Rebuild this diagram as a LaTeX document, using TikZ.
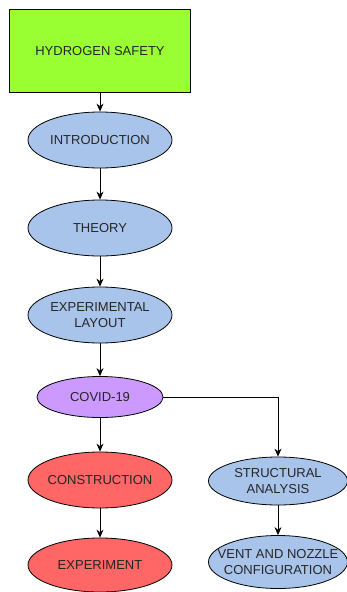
\documentclass[tikz,border=0pt]{standalone}
\usepackage{fontspec}
\setmainfont{Liberation Sans}
\usetikzlibrary{shapes.geometric,arrows.meta}
\definecolor{hgreen}{HTML}{99FF33}
\definecolor{hblue}{HTML}{A9C4EB}
\definecolor{hpurple}{HTML}{CC99FF}
\definecolor{hred}{HTML}{FF6666}
\tikzset{every node/.style={font=\fontsize{13}{15.5}\selectfont,align=center,text=black!85}}

\begin{document}
\begin{tikzpicture}[x=1pt,y=-1pt,thick,>={Stealth[length=8pt,width=7pt]},
    topic/.style={ellipse,draw,fill=hblue,minimum width=144pt,minimum height=56pt,inner xsep=-25pt,inner ysep=-8pt}]
    \useasboundingbox (0,0) rectangle (346,592);
    \node (HS) at (100,51) [rectangle,draw,fill=hgreen,minimum width=181pt,minimum height=83pt]{HYDROGEN SAFETY};
    \node (IN) at (100,140) [topic]{INTRODUCTION};
    \node (TH) at (100,228) [topic]{THEORY};
    \node (EL) at (100,315) [topic]{EXPERIMENTAL\\LAYOUT};
    \node (CV) at (100,397) [topic,fill=hpurple,minimum width=126pt,minimum height=41pt]{COVID-19};
    \node (CO) at (100,480) [topic,fill=hred]{CONSTRUCTION};
    \node (EX) at (100,565) [topic,fill=hred,minimum height=54pt]{EXPERIMENT};
    \node (SA) at (278,481) [topic,minimum width=139pt,minimum height=48pt]{STRUCTURAL\\ANALYSIS};
    \node (VN) at (278,562) [topic,minimum width=139pt,minimum height=53pt]{VENT AND NOZZLE\\CONFIGURATION};

    \draw [->] (HS.south) to (IN.north);
    \draw [->] (IN.south) to (TH.north);
    \draw [->] (TH.south) to (EL.north);
    \draw [->] (EL.south) to (CV.north);
    \draw [->] (CV.south) to (CO.north);
    \draw [->] (CO.south) to (EX.north);
    \draw [->] (CV.east) -| (SA.north);
    \draw [->] (SA.south) to (VN.north);
  \end{tikzpicture}
\end{document}
